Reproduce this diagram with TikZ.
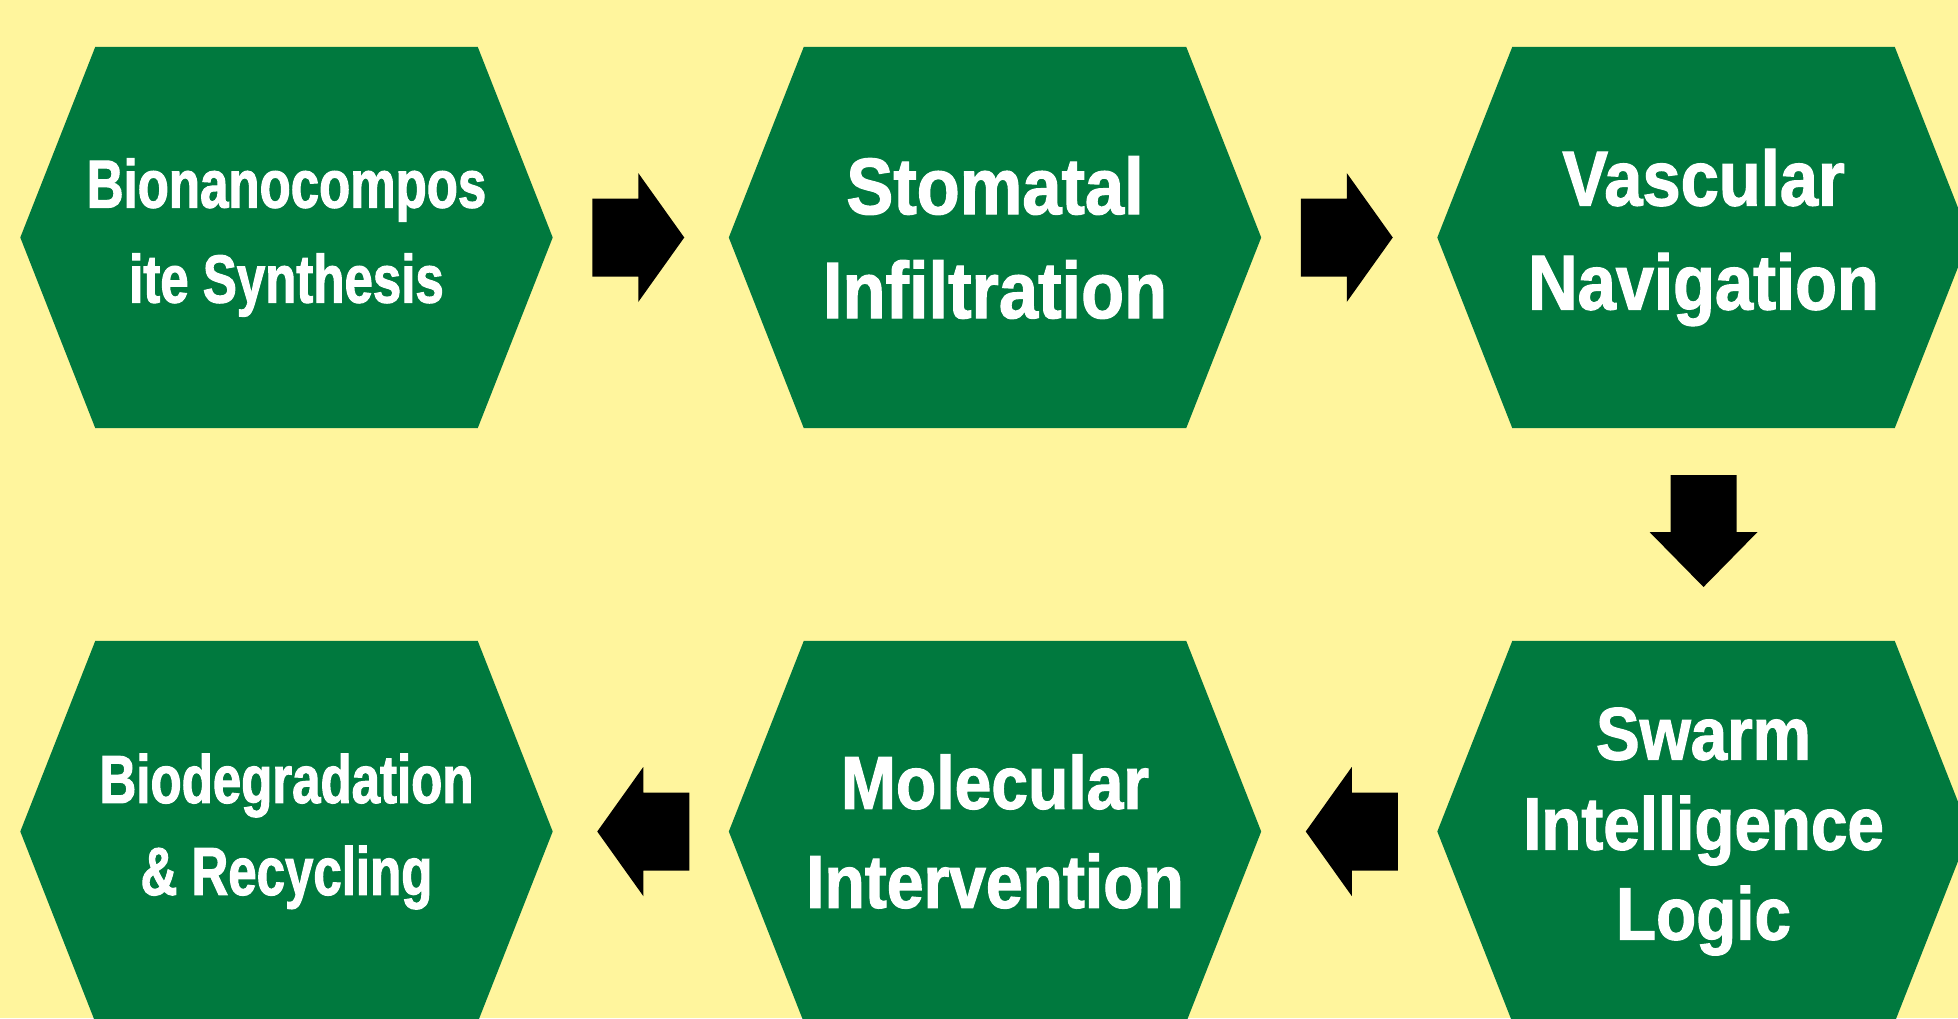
\documentclass[tikz,border=0pt]{standalone}
\usepackage{fontspec}
\newfontfamily\bigface{Liberation Sans}[FakeStretch=0.88,FakeBold=1.5]
\newfontfamily\smallface{Liberation Sans}[FakeStretch=0.75,FakeBold=1.5]
\usetikzlibrary{calc}
\pgfdeclarelayer{background}
\pgfsetlayers{background,main}
\definecolor{bgyellow}{RGB}{255,245,157}
\definecolor{hexgreen}{RGB}{0,121,62}
\tikzset{
  hexa/.style={shape=rectangle, minimum width=532pt, minimum height=381pt,
    inner sep=0pt, align=center, text=white},
  rarrow/.pic={\fill[black] (-48.5,-39) -- (-2.5,-39) -- (-2.5,-64.5) -- (43.5,0)
     -- (-2.5,64.5) -- (-2.5,39) -- (-48.5,39) -- cycle;},
  darrow/.pic={\fill[black] (-33,-59.5) -- (33,-59.5) -- (33,-2.5) -- (54,-2.5)
     -- (0,52.5) -- (-54,-2.5) -- (-33,-2.5) -- cycle;},
}
\newcommand{\hexfill}[1]{%
  \begin{pgfonlayer}{background}
  \fill[hexgreen] (#1.west) -- ([xshift=75pt]#1.north west) -- ([xshift=-75pt]#1.north east)
    -- (#1.east) -- ([xshift=-75pt]#1.south east) -- ([xshift=75pt]#1.south west) -- cycle;
  \end{pgfonlayer}}
\begin{document}
\begin{tikzpicture}[x=1pt,y=-1pt]
\useasboundingbox (0,0) rectangle (1958,1018);
\begin{pgfonlayer}{background}
\fill[bgyellow] (0,0) rectangle (1958,1018);
\end{pgfonlayer}
% row 1
\node[hexa, font=\smallface\bfseries\fontsize{68pt}{95pt}\selectfont] (h1) at (286.5,237.5) {Bionanocompos\\ite Synthesis};
\node[hexa, font=\bigface\bfseries\fontsize{80pt}{104pt}\selectfont] (h2) at (995,237.5) {Stomatal\\Infiltration};
\node[hexa, font=\bigface\bfseries\fontsize{78pt}{104pt}\selectfont] (h3) at (1703.5,237.5) {Vascular\\Navigation};
% row 2
\node[hexa, font=\smallface\bfseries\fontsize{68pt}{92pt}\selectfont] (h4) at (286.5,831.5) {Biodegradation\\\& Recycling};
\node[hexa, font=\bigface\bfseries\fontsize{75pt}{99pt}\selectfont] (h5) at (995,831.5) {Molecular\\Intervention};
\node[hexa, font=\bigface\bfseries\fontsize{74.5pt}{90pt}\selectfont] (h6) at (1703.5,831.5) {Swarm\\Intelligence\\Logic};
\hexfill{h1}\hexfill{h2}\hexfill{h3}\hexfill{h4}\hexfill{h5}\hexfill{h6}
% connectors
\coordinate (a12) at ($(h1.east)!0.5!(h2.west)$);
\coordinate (a23) at ($(h2.east)!0.5!(h3.west)$);
\coordinate (a36) at ($(h3.south)!0.5!(h6.north)$);
\coordinate (a65) at ($(h6.west)!0.5!(h5.east)$);
\coordinate (a54) at ($(h5.west)!0.5!(h4.east)$);
\pic at (a12) {rarrow};
\pic at (a23) {rarrow};
\pic at (a36) {darrow};
\pic[xscale=-1] at (a65) {rarrow};
\pic[xscale=-1] at (a54) {rarrow};
\end{tikzpicture}
\end{document}
